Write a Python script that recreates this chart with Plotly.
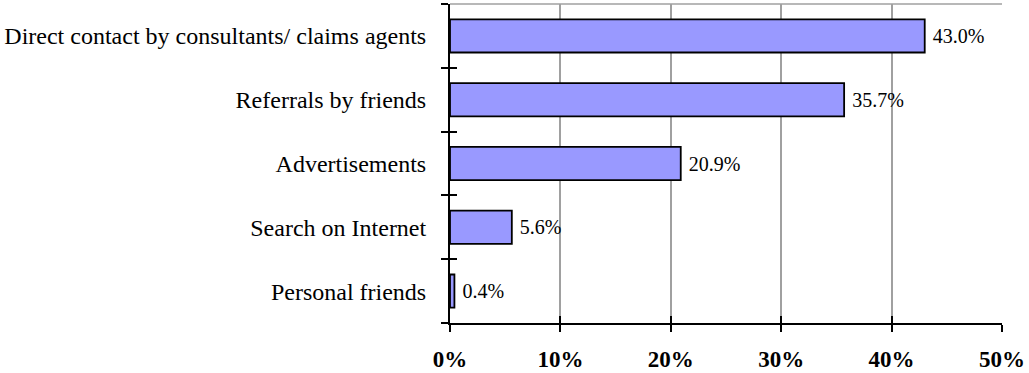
import plotly.graph_objects as go

categories = ["Direct contact by consultants/ claims agents", "Referrals by friends",
              "Advertisements", "Search on Internet", "Personal friends"]
values = [43.0, 35.7, 20.9, 5.6, 0.4]
labels = [f"\u00a0{v:.1f}%" for v in values]
x_ticks = [0, 10, 20, 30, 40, 50]
x_ticklabels = [f"{t}%" for t in x_ticks]

FONT = "Liberation Serif, Times New Roman, serif"
order = categories[::-1]

fig = go.Figure()
fig.add_trace(go.Bar(
    y=categories, x=values, orientation="h", width=0.52,
    marker=dict(color="#9999FF", line=dict(color="black", width=1.8)),
    text=labels, textposition="outside", cliponaxis=False,
    textfont=dict(family=FONT, size=20, color="black"),
    showlegend=False,
))

fig.update_layout(
    width=1029, height=373,
    margin=dict(l=450, r=27, t=4, b=50, autoexpand=False),
    plot_bgcolor="white", paper_bgcolor="white",
    font=dict(family=FONT, color="black"),
    xaxis=dict(range=[0, 50], tickvals=x_ticks, ticktext=x_ticklabels,
               showgrid=True, gridcolor="#a0a0a0", gridwidth=1.5,
               showline=True, linecolor="black", linewidth=2,
               ticks="outside", ticklen=7, tickwidth=2, tickcolor="black",
               ticklabelstandoff=7, automargin=False,
               tickfont=dict(family=FONT, size=23, color="black", weight="bold"),
               zeroline=False),
    xaxis2=dict(range=[0, 50], tickvals=x_ticks, overlaying="x", anchor="y",
                side="bottom", showticklabels=False, showgrid=False,
                ticks="inside", ticklen=7, tickwidth=2, tickcolor="black",
                showline=False, zeroline=False, automargin=False),
    yaxis=dict(type="category", categoryorder="array", categoryarray=order,
               showline=True, linecolor="black", linewidth=2,
               ticks="outside", ticklen=7, tickwidth=2, tickcolor="black",
               tickson="boundaries", showgrid=False, automargin=False,
               tickfont=dict(family=FONT, size=24, color="black"),
               ticklabelstandoff=17),
    yaxis2=dict(type="category", categoryorder="array", categoryarray=order,
                overlaying="y", anchor="x", side="left", automargin=False,
                showticklabels=False, showgrid=False, showline=False,
                ticks="inside", ticklen=7, tickwidth=2, tickcolor="black",
                tickson="boundaries"),
    shapes=[dict(type="line", xref="paper", yref="paper", x0=0, x1=1, y0=1, y1=1,
                 line=dict(color="#a0a0a0", width=1.5), layer="below")],
)

# invisible helper trace to activate the overlay axes
fig.add_trace(go.Bar(y=order, x=[0]*len(order), orientation="h", xaxis="x2", yaxis="y2",
                     showlegend=False, hoverinfo="skip", marker=dict(opacity=0)))

fig.write_html("out.html", config={"displayModeBar": False},
               post_script="document.body.style.margin='0';")
